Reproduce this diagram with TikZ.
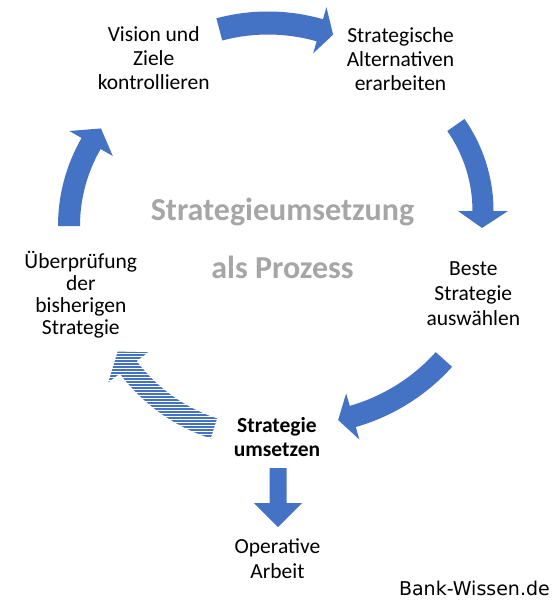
\documentclass[tikz,border=0pt]{standalone}
\usepackage{fontspec}
\setmainfont{Carlito}
\newfontfamily\dejavu{DejaVu Sans}
\definecolor{arrowblue}{HTML}{4472C4}
\definecolor{titlegray}{HTML}{A6A6A6}
\newcommand{\mylines}[1]{\begin{tabular}[t]{@{}c@{}}#1\end{tabular}}
% outline of a curved block arrow around the current origin:
% R, start angle, end angle, body width, head half-width, head length
\newcommand{\arcarrowpath}[6]{%
  (#2:{#1+#4/2}) arc[start angle=#2, end angle=#3, radius={#1+#4/2}]
  -- (#3:{#1+#5}) -- ({#3+#6/#1*57.2958}:#1) -- (#3:{#1-#5})
  -- (#3:{#1-#4/2}) arc[start angle=#3, end angle=#2, radius={#1-#4/2}] -- cycle}
% style, cx, cy, R, start angle, end angle, body width, head half-width, head length
\newcommand{\cycarrow}[9]{%
  \begin{scope}[shift={(#2,#3)}]
    \path[#1] \arcarrowpath{#4}{#5}{#6}{#7}{#8}{#9};
  \end{scope}}
% hatched version (horizontal stripes)
\newcommand{\hatchcycarrow}[8]{%
  \begin{scope}[shift={(#1,#2)}]
    \clip \arcarrowpath{#3}{#4}{#5}{#6}{#7}{#8};
    \foreach \yy in {60,63,...,200} {\draw[hatchline] (-220,\yy) -- (20,\yy);}
  \end{scope}}
\tikzset{
  solidarrow/.style={fill=arrowblue},
  hatchline/.style={draw=arrowblue,line width=1.25pt},
  label/.style={anchor=base,inner sep=0pt,font=\fontsize{21.5}{24}\selectfont},
}
\begin{document}
\begin{tikzpicture}[x=1pt,y=-1pt]
\fill[white] (0,0) rectangle (553,600);
\useasboundingbox (0,0) rectangle (553,600);

% text labels
\node[label] (vision) at (153.7,41.7) {\mylines{Vision und\\Ziele\\kontrollieren}};
\node[label] (alternativen) at (400.5,42.3) {\mylines{Strategische\\Alternativen\\erarbeiten}};
\node[label,font=\fontsize{21.5}{25}\selectfont] (beste) at (473.3,275) {\mylines{Beste\\Strategie\\auswählen}};
\node[label,font=\bfseries\fontsize{21.5}{24}\selectfont] (umsetzen) at (277,432) {\mylines{Strategie\\umsetzen}};
\node[label,font=\fontsize{21.5}{25}\selectfont] (operative) at (277.5,553.3) {\mylines{Operative\\Arbeit}};
\node[label,font=\fontsize{21.5}{22}\selectfont] (ueberpruefung) at (80.8,268.3) {\mylines{Überprüfung\\der\\bisherigen\\Strategie}};
\node[label,text=titlegray,font=\bfseries\fontsize{32}{58}\selectfont] (title) at (282.5,220) {\mylines{Strategieumsetzung\\als Prozess}};
\node[anchor=base east,inner sep=0pt,font=\dejavu\fontsize{19}{22}\selectfont] (bank) at (550,595) {Bank-Wissen.de};

% cycle arrows
\cycarrow{solidarrow}{268}{211}{188}{-105}{-74}{23}{24}{14}
\cycarrow{solidarrow}{333}{211}{150}{-35}{0}{21}{25}{17}
\cycarrow{solidarrow}{299}{229}{195}{42}{74}{22}{24}{15}
\hatchcycarrow{268}{262}{175}{108}{143}{21}{25}{19}
\cycarrow{solidarrow}{234}{226}{165}{180}{210}{22}{25}{18}

% down arrow from "Strategie umsetzen" to "Operative Arbeit"
\coordinate (dtop) at (278,468);
\coordinate (dtip) at (278,527);
\fill[arrowblue] ([xshift=-8.5pt]dtop) -- ([xshift=8.5pt]dtop) -- (286.5,503) -- (302,503)
  -- (dtip) -- (254,503) -- (269.5,503) -- cycle;
\end{tikzpicture}
\end{document}
